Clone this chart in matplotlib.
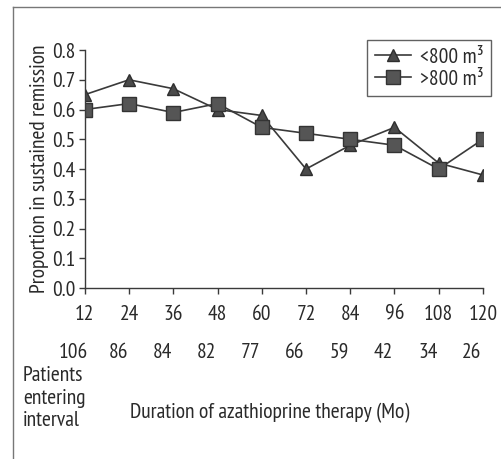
import matplotlib
matplotlib.use("Agg")
import matplotlib.pyplot as plt
import matplotlib.transforms as mtransforms
from matplotlib.lines import Line2D

months = [12, 24, 36, 48, 60, 72, 84, 96, 108, 120]
below_800 = [0.65, 0.70, 0.67, 0.60, 0.58, 0.40, 0.48, 0.54, 0.42, 0.38]
above_800 = [0.60, 0.62, 0.59, 0.62, 0.54, 0.52, 0.50, 0.48, 0.40, 0.50]
patients = [106, 86, 84, 82, 77, 66, 59, 42, 34, 26]
yticks = [0.0, 0.1, 0.2, 0.3, 0.4, 0.5, 0.6, 0.7, 0.8]

plt.rcParams['font.family'] = ['PT Sans Narrow', 'Fira Sans Condensed', 'DejaVu Sans']
txt = '#2a2a2a'
linec = '#3a3a3a'
fs = 15.5

fig = plt.figure(figsize=(5.02, 4.59), dpi=100)
ax = fig.add_axes([0.169, 0.3725, 0.793, 0.5185])

ax.plot(months, below_800, color=linec, lw=1.2, marker='^', ms=9,
        mfc='#4a4a4a', mec='#2e2e2e', label='<800 m³')
ax.plot(months, above_800, color=linec, lw=1.2, marker='s', ms=10,
        mfc='#555555', mec='#333333', label='>800 m³')

ax.set_xlim(12, 120)
ax.set_ylim(0, 0.8)
ax.set_xticks(months)
ax.set_yticks(yticks)
ax.set_yticklabels([f'{v:.1f}' for v in yticks])
for s in ['top', 'right']:
    ax.spines[s].set_visible(False)
for s in ['left', 'bottom']:
    ax.spines[s].set_color(linec)
    ax.spines[s].set_linewidth(1.0)
ax.tick_params(axis='both', colors=linec, labelcolor=txt, labelsize=fs,
               length=4, width=1.0, direction='out')
ax.tick_params(axis='x', pad=8)
ax.tick_params(axis='y', pad=3)
ax.set_ylabel('Proportion in sustained remission', fontsize=fs, color=txt, labelpad=2)

leg = ax.legend(loc='upper right', bbox_to_anchor=(491 / 502, 1 - 40 / 459),
                bbox_transform=fig.transFigure, borderaxespad=0, fontsize=fs,
                frameon=True, fancybox=False, edgecolor=linec, handlelength=1.7,
                handletextpad=0.4, borderpad=0.35, labelspacing=0.15)
leg.get_frame().set_linewidth(1.0)
for t in leg.get_texts():
    t.set_color(txt)

# patients entering interval row
offset = mtransforms.ScaledTranslation(-11 / 100, 0, fig.dpi_scale_trans)
trans = mtransforms.blended_transform_factory(ax.transData, fig.transFigure) + offset
for m, p in zip(months, patients):
    ax.text(m, 1 - 352 / 459, str(p), transform=trans, ha='center', va='center',
            fontsize=fs, color=txt, clip_on=False)

fig.text(23 / 502, 1 - 398 / 459, 'Patients\nentering\ninterval', ha='left', va='center',
         fontsize=fs, color=txt, linespacing=1.25)
fig.text(270 / 502, 1 - 413 / 459, 'Duration of azathioprine therapy (Mo)', ha='center',
         va='center', fontsize=fs, color=txt)

# figure frame (left and top edges)
fig.add_artist(Line2D([13 / 502, 13 / 502], [0, 1 - 7 / 459], transform=fig.transFigure,
                      color='#777777', lw=1.0))
fig.add_artist(Line2D([13 / 502, 1], [1 - 7 / 459, 1 - 7 / 459], transform=fig.transFigure,
                      color='#777777', lw=1.0))

fig.savefig('out.png', dpi=100)
